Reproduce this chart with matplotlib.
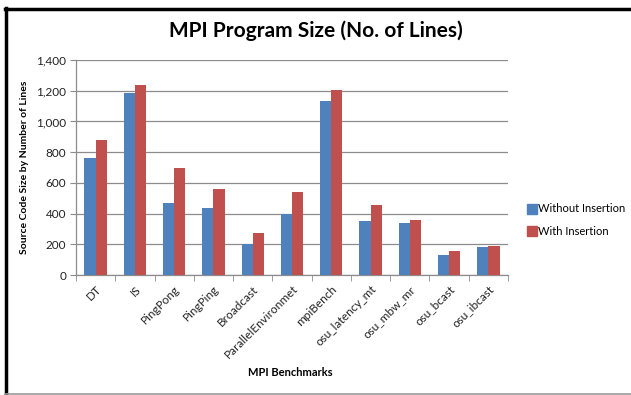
import matplotlib
matplotlib.use("Agg")
import matplotlib.pyplot as plt
import numpy as np
from matplotlib.ticker import FuncFormatter, FixedLocator
from matplotlib.lines import Line2D

categories = ["DT", "IS", "PingPong", "PingPing", "Broadcast", "ParallelEnvironmet",
              "mpiBench", "osu_latency_mt", "osu_mbw_mr", "osu_bcast", "osu_ibcast"]
without_insertion = [759, 1188, 466, 438, 204, 397, 1133, 353, 336, 132, 180]
with_insertion = [878, 1235, 694, 561, 275, 538, 1203, 455, 358, 156, 187]
series_names = ["Without Insertion", "With Insertion"]
y_ticks = [0, 200, 400, 600, 800, 1000, 1200, 1400]

FONT = ["Lato", "DejaVu Sans"]
plt.rcParams['font.family'] = FONT

W, H = 631, 395
fig = plt.figure(figsize=(W / 100, H / 100), dpi=100)
fig.patch.set_facecolor("white")

ax = fig.add_axes([76 / W, (H - 275) / H, 432 / W, 215 / H])
x = np.arange(len(categories))
bw = 0.2857
c_blue = "#4F81BD"
c_red = "#C0504D"
ax.bar(x - bw / 2, without_insertion, bw, color=c_blue, zorder=3)
ax.bar(x + bw / 2, with_insertion, bw, color=c_red, zorder=3)

ax.set_xlim(-0.5, len(categories) - 0.5)
ax.set_ylim(0, 1400)
ax.set_yticks(y_ticks)
ax.yaxis.set_major_formatter(FuncFormatter(lambda v, p: f"{int(v):,}"))
ax.grid(axis="y", color="#8c8c8c", linewidth=0.9, zorder=0)
ax.set_axisbelow(True)
for s in ["top", "right"]:
    ax.spines[s].set_visible(False)
for s in ["left", "bottom"]:
    ax.spines[s].set_color("#8c8c8c")
    ax.spines[s].set_linewidth(0.9)
ax.tick_params(axis="y", length=4, color="#8c8c8c", labelsize=8.5, pad=3, labelcolor="#222222")
ax.set_xticks(x)
ax.set_xticklabels(categories, rotation=45, ha="right", rotation_mode="anchor", fontsize=8.5, color="#222222")
ax.tick_params(axis="x", length=0, pad=6)
ax.xaxis.set_minor_locator(FixedLocator(np.arange(-0.5, len(categories), 1.0)))
ax.tick_params(axis="x", which="minor", length=4, color="#8c8c8c")

ax.set_ylabel("Source Code Size by Number of Lines", fontsize=7.5, fontweight="bold")
ax.yaxis.set_label_coords((29 - 76) / 432, 0.5)
fig.text(290 / W, 1 - 372 / H, "MPI Benchmarks", ha="center", va="center", fontsize=8, fontweight="bold")
fig.text(316 / W, 1 - 31 / H, "MPI Program Size (No. of Lines)", ha="center", va="center",
         fontsize=15, fontweight="bold")

handles = [Line2D([], [], marker="s", linestyle="none", markersize=7, color=c_blue),
           Line2D([], [], marker="s", linestyle="none", markersize=7, color=c_red)]
fig.legend(handles, series_names, loc="center left", bbox_to_anchor=(521 / W, 1 - 220 / H),
           frameon=False, fontsize=8, handletextpad=0.0, labelspacing=1.0, handlelength=1.0,
           borderpad=0)

# outer border
fig.add_artist(Line2D([5.5 / W, 5.5 / W], [0, 1 - 8 / H], transform=fig.transFigure, color="black", linewidth=2.5))
fig.add_artist(Line2D([4.5 / W, 1], [1 - 9 / H, 1 - 9 / H], transform=fig.transFigure, color="black", linewidth=2.5))
fig.add_artist(Line2D([5 / W, 1], [1 - 393.5 / H, 1 - 393.5 / H], transform=fig.transFigure, color="#999999", linewidth=1.2))

fig.savefig("out.png", dpi=100, facecolor="white")
